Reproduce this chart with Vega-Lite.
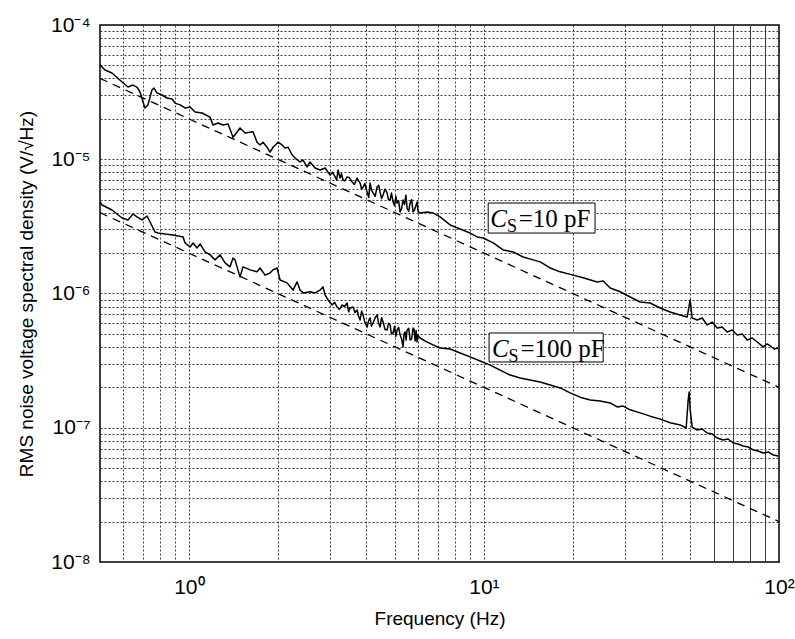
{
  "$schema": "https://vega.github.io/schema/vega-lite/v6.json",
  "autosize": "none",
  "width": 679,
  "height": 537,
  "padding": {"left": 100, "top": 25, "right": 16, "bottom": 77},
  "background": "white",
  "config": {
    "view": {"stroke": "black", "strokeWidth": 1.5},
    "axis": {
      "labelFont": "Liberation Sans",
      "labelFontSize": 21,
      "labelColor": "black",
      "titleFont": "Liberation Sans",
      "titleFontSize": 19,
      "titleFontWeight": "normal",
      "titleColor": "black",
      "ticks": false,
      "domain": false,
      "gridColor": "#3a3a3a",
      "gridWidth": 1,
      "gridOpacity": 1,
      "labelOverlap": false,
      "labelFlush": false
    }
  },
  "datasets": {
    "curves": [
      {"s":"10 pF","f":0.5,"v":5.04e-5},{"s":"10 pF","f":0.52,"v":4.62e-5},{"s":"10 pF","f":0.549,"v":4.39e-5},{"s":"10 pF","f":0.594,"v":3.76e-5},{"s":"10 pF","f":0.622,"v":3.45e-5},{"s":"10 pF","f":0.647,"v":3.57e-5},{"s":"10 pF","f":0.667,"v":3.45e-5},{"s":"10 pF","f":0.683,"v":3.17e-5},{"s":"10 pF","f":0.71,"v":2.41e-5},{"s":"10 pF","f":0.727,"v":2.54e-5},{"s":"10 pF","f":0.75,"v":3.28e-5},{"s":"10 pF","f":0.762,"v":3.39e-5},{"s":"10 pF","f":0.78,"v":3.12e-5},{"s":"10 pF","f":0.811,"v":3.01e-5},{"s":"10 pF","f":0.844,"v":2.86e-5},{"s":"10 pF","f":0.877,"v":2.81e-5},{"s":"10 pF","f":0.898,"v":2.62e-5},{"s":"10 pF","f":0.934,"v":2.54e-5},{"s":"10 pF","f":0.971,"v":2.41e-5},{"s":"10 pF","f":1.01,"v":2.45e-5},{"s":"10 pF","f":1.05,"v":2.25e-5},{"s":"10 pF","f":1.109,"v":2.21e-5},{"s":"10 pF","f":1.18,"v":2.06e-5},{"s":"10 pF","f":1.208,"v":1.8e-5},{"s":"10 pF","f":1.256,"v":1.86e-5},{"s":"10 pF","f":1.306,"v":1.8e-5},{"s":"10 pF","f":1.358,"v":1.83e-5},{"s":"10 pF","f":1.412,"v":1.46e-5},{"s":"10 pF","f":1.491,"v":1.71e-5},{"s":"10 pF","f":1.551,"v":1.57e-5},{"s":"10 pF","f":1.65,"v":1.6e-5},{"s":"10 pF","f":1.703,"v":1.34e-5},{"s":"10 pF","f":1.743,"v":1.28e-5},{"s":"10 pF","f":1.784,"v":1.34e-5},{"s":"10 pF","f":1.841,"v":1.23e-5},{"s":"10 pF","f":1.885,"v":1.13e-5},{"s":"10 pF","f":1.929,"v":1.23e-5},{"s":"10 pF","f":2.006,"v":1.34e-5},{"s":"10 pF","f":2.07,"v":1.28e-5},{"s":"10 pF","f":2.119,"v":1.21e-5},{"s":"10 pF","f":2.169,"v":1.23e-5},{"s":"10 pF","f":2.238,"v":1.08e-5},{"s":"10 pF","f":2.291,"v":1.02e-5},{"s":"10 pF","f":2.382,"v":9.54e-6},{"s":"10 pF","f":2.439,"v":9.87e-6},{"s":"10 pF","f":2.516,"v":8.76e-6},{"s":"10 pF","f":2.575,"v":9.54e-6},{"s":"10 pF","f":2.678,"v":8.61e-6},{"s":"10 pF","f":2.784,"v":8.32e-6},{"s":"10 pF","f":2.895,"v":8.61e-6},{"s":"10 pF","f":3.011,"v":7.63e-6},{"s":"10 pF","f":3.13,"v":7.38e-6},{"s":"10 pF","f":3.205,"v":8.32e-6},{"s":"10 pF","f":3.255,"v":7.25e-6},{"s":"10 pF","f":3.332,"v":7.01e-6},{"s":"10 pF","f":3.438,"v":7.38e-6},{"s":"10 pF","f":3.575,"v":6.77e-6},{"s":"10 pF","f":3.717,"v":7.25e-6},{"s":"10 pF","f":3.805,"v":6.65e-6},{"s":"10 pF","f":3.895,"v":6.21e-6},{"s":"10 pF","f":4.019,"v":5.7e-6},{"s":"10 pF","f":4.114,"v":6.65e-6},{"s":"10 pF","f":4.211,"v":5.61e-6},{"s":"10 pF","f":4.345,"v":6.21e-6},{"s":"10 pF","f":4.448,"v":5.7e-6},{"s":"10 pF","f":4.553,"v":5.42e-6},{"s":"10 pF","f":4.698,"v":5.61e-6},{"s":"10 pF","f":4.809,"v":4.97e-6},{"s":"10 pF","f":4.923,"v":4.8e-6},{"s":"10 pF","f":5.079,"v":4.72e-6},{"s":"10 pF","f":5.199,"v":4.05e-6},{"s":"10 pF","f":5.322,"v":4.97e-6},{"s":"10 pF","f":5.491,"v":4.33e-6},{"s":"10 pF","f":5.621,"v":4.72e-6},{"s":"10 pF","f":5.754,"v":4.05e-6},{"s":"10 pF","f":5.891,"v":4.56e-6},{"s":"10 pF","f":5.983,"v":4.05e-6},{"s":"10 pF","f":6.077,"v":3.98e-6},{"s":"10 pF","f":6.419,"v":4.05e-6},{"s":"10 pF","f":6.726,"v":3.98e-6},{"s":"10 pF","f":7.104,"v":3.72e-6},{"s":"10 pF","f":7.682,"v":3.24e-6},{"s":"10 pF","f":8.306,"v":3.02e-6},{"s":"10 pF","f":8.981,"v":2.82e-6},{"s":"10 pF","f":9.484,"v":2.64e-6},{"s":"10 pF","f":9.939,"v":2.59e-6},{"s":"10 pF","f":10.75,"v":2.38e-6},{"s":"10 pF","f":11.62,"v":2.11e-6},{"s":"10 pF","f":12.56,"v":2.04e-6},{"s":"10 pF","f":13.58,"v":1.87e-6},{"s":"10 pF","f":14.68,"v":1.78e-6},{"s":"10 pF","f":15.51,"v":1.72e-6},{"s":"10 pF","f":16.77,"v":1.55e-6},{"s":"10 pF","f":18.13,"v":1.45e-6},{"s":"10 pF","f":20.06,"v":1.37e-6},{"s":"10 pF","f":21.69,"v":1.31e-6},{"s":"10 pF","f":24.2,"v":1.22e-6},{"s":"10 pF","f":25.36,"v":1.24e-6},{"s":"10 pF","f":26.78,"v":1.1e-6},{"s":"10 pF","f":28.95,"v":1.03e-6},{"s":"10 pF","f":31.3,"v":9.42e-7},{"s":"10 pF","f":33.84,"v":8.64e-7},{"s":"10 pF","f":36.59,"v":8.5e-7},{"s":"10 pF","f":39.56,"v":7.8e-7},{"s":"10 pF","f":42.77,"v":7.28e-7},{"s":"10 pF","f":46.25,"v":6.92e-7},{"s":"10 pF","f":48.84,"v":6.68e-7},{"s":"10 pF","f":50.0,"v":8.95e-7},{"s":"10 pF","f":50.78,"v":6.57e-7},{"s":"10 pF","f":52.81,"v":6.35e-7},{"s":"10 pF","f":54.91,"v":6.57e-7},{"s":"10 pF","f":57.09,"v":5.83e-7},{"s":"10 pF","f":59.36,"v":6.13e-7},{"s":"10 pF","f":61.72,"v":5.53e-7},{"s":"10 pF","f":64.19,"v":5.63e-7},{"s":"10 pF","f":66.75,"v":5.17e-7},{"s":"10 pF","f":69.4,"v":5.35e-7},{"s":"10 pF","f":72.17,"v":4.91e-7},{"s":"10 pF","f":75.04,"v":4.99e-7},{"s":"10 pF","f":78.02,"v":4.51e-7},{"s":"10 pF","f":81.14,"v":4.66e-7},{"s":"10 pF","f":84.37,"v":4.35e-7},{"s":"10 pF","f":88.41,"v":4.0e-7},{"s":"10 pF","f":91.21,"v":4.21e-7},{"s":"10 pF","f":93.38,"v":4.07e-7},{"s":"10 pF","f":96.34,"v":3.86e-7},{"s":"10 pF","f":99.4,"v":3.93e-7},
      {"s":"10 pF","f":3.07,"v":8.0e-6},{"s":"10 pF","f":3.17,"v":7.0e-6},{"s":"10 pF","f":3.29,"v":7.8e-6},{"s":"10 pF","f":3.38,"v":6.9e-6},{"s":"10 pF","f":3.5,"v":7.3e-6},{"s":"10 pF","f":3.64,"v":6.5e-6},{"s":"10 pF","f":3.76,"v":6.9e-6},{"s":"10 pF","f":3.85,"v":6.0e-6},{"s":"10 pF","f":3.95,"v":6.6e-6},
      {"s":"10 pF","f":4.07,"v":5.2e-6},{"s":"10 pF","f":4.16,"v":5.9e-6},{"s":"10 pF","f":4.28,"v":5.3e-6},{"s":"10 pF","f":4.4,"v":6.4e-6},{"s":"10 pF","f":4.5,"v":5.1e-6},{"s":"10 pF","f":4.62,"v":6.0e-6},{"s":"10 pF","f":4.75,"v":5.0e-6},{"s":"10 pF","f":4.86,"v":5.6e-6},{"s":"10 pF","f":4.98,"v":4.5e-6},{"s":"10 pF","f":5.03,"v":5.3e-6},{"s":"10 pF","f":5.14,"v":4.9e-6},{"s":"10 pF","f":5.26,"v":4.3e-6},{"s":"10 pF","f":5.38,"v":4.6e-6},{"s":"10 pF","f":5.44,"v":5.4e-6},{"s":"10 pF","f":5.56,"v":4.1e-6},{"s":"10 pF","f":5.69,"v":5.0e-6},{"s":"10 pF","f":5.82,"v":4.2e-6},{"s":"10 pF","f":5.94,"v":4.8e-6},
      {"s":"100 pF","f":0.5,"v":4.8e-6},{"s":"100 pF","f":0.508,"v":4.56e-6},{"s":"100 pF","f":0.549,"v":4.19e-6},{"s":"100 pF","f":0.594,"v":3.65e-6},{"s":"100 pF","f":0.622,"v":3.53e-6},{"s":"100 pF","f":0.647,"v":3.91e-6},{"s":"100 pF","f":0.667,"v":3.72e-6},{"s":"100 pF","f":0.694,"v":3.53e-6},{"s":"100 pF","f":0.722,"v":3.78e-6},{"s":"100 pF","f":0.739,"v":3.41e-6},{"s":"100 pF","f":0.768,"v":2.87e-6},{"s":"100 pF","f":0.786,"v":2.82e-6},{"s":"100 pF","f":0.831,"v":2.77e-6},{"s":"100 pF","f":0.884,"v":2.73e-6},{"s":"100 pF","f":0.956,"v":2.64e-6},{"s":"100 pF","f":0.971,"v":2.38e-6},{"s":"100 pF","f":1.01,"v":2.22e-6},{"s":"100 pF","f":1.034,"v":2.38e-6},{"s":"100 pF","f":1.066,"v":2.18e-6},{"s":"100 pF","f":1.092,"v":2.34e-6},{"s":"100 pF","f":1.135,"v":2.04e-6},{"s":"100 pF","f":1.18,"v":1.94e-6},{"s":"100 pF","f":1.227,"v":1.78e-6},{"s":"100 pF","f":1.276,"v":1.94e-6},{"s":"100 pF","f":1.327,"v":1.69e-6},{"s":"100 pF","f":1.379,"v":1.58e-6},{"s":"100 pF","f":1.412,"v":1.84e-6},{"s":"100 pF","f":1.434,"v":1.78e-6},{"s":"100 pF","f":1.491,"v":1.33e-6},{"s":"100 pF","f":1.527,"v":1.58e-6},{"s":"100 pF","f":1.612,"v":1.5e-6},{"s":"100 pF","f":1.703,"v":1.45e-6},{"s":"100 pF","f":1.743,"v":1.55e-6},{"s":"100 pF","f":1.813,"v":1.37e-6},{"s":"100 pF","f":1.885,"v":1.42e-6},{"s":"100 pF","f":1.929,"v":1.5e-6},{"s":"100 pF","f":1.991,"v":1.55e-6},{"s":"100 pF","f":2.038,"v":1.26e-6},{"s":"100 pF","f":2.152,"v":1.2e-6},{"s":"100 pF","f":2.255,"v":1.06e-6},{"s":"100 pF","f":2.327,"v":1.22e-6},{"s":"100 pF","f":2.382,"v":1.06e-6},{"s":"100 pF","f":2.439,"v":1.01e-6},{"s":"100 pF","f":2.575,"v":1.03e-6},{"s":"100 pF","f":2.678,"v":1.01e-6},{"s":"100 pF","f":2.784,"v":1.06e-6},{"s":"100 pF","f":2.85,"v":1.12e-6},{"s":"100 pF","f":2.895,"v":9.75e-7},{"s":"100 pF","f":2.964,"v":8.95e-7},{"s":"100 pF","f":3.058,"v":8.21e-7},{"s":"100 pF","f":3.18,"v":7.93e-7},{"s":"100 pF","f":3.306,"v":8.21e-7},{"s":"100 pF","f":3.438,"v":8.5e-7},{"s":"100 pF","f":3.519,"v":7.8e-7},{"s":"100 pF","f":3.603,"v":7.93e-7},{"s":"100 pF","f":3.717,"v":7.54e-7},{"s":"100 pF","f":3.805,"v":6.35e-7},{"s":"100 pF","f":3.895,"v":6.92e-7},{"s":"100 pF","f":4.019,"v":5.63e-7},{"s":"100 pF","f":4.114,"v":6.57e-7},{"s":"100 pF","f":4.211,"v":6.03e-7},{"s":"100 pF","f":4.345,"v":6.92e-7},{"s":"100 pF","f":4.448,"v":5.63e-7},{"s":"100 pF","f":4.553,"v":6.13e-7},{"s":"100 pF","f":4.698,"v":5.35e-7},{"s":"100 pF","f":4.809,"v":5.83e-7},{"s":"100 pF","f":4.923,"v":5.08e-7},{"s":"100 pF","f":5.079,"v":5.35e-7},{"s":"100 pF","f":5.199,"v":4.91e-7},{"s":"100 pF","f":5.322,"v":4.0e-7},{"s":"100 pF","f":5.406,"v":5.17e-7},{"s":"100 pF","f":5.491,"v":5.35e-7},{"s":"100 pF","f":5.621,"v":4.51e-7},{"s":"100 pF","f":5.754,"v":5.53e-7},{"s":"100 pF","f":5.845,"v":4.43e-7},{"s":"100 pF","f":5.937,"v":4.35e-7},{"s":"100 pF","f":6.077,"v":4.66e-7},{"s":"100 pF","f":6.419,"v":4.35e-7},{"s":"100 pF","f":6.726,"v":4.14e-7},{"s":"100 pF","f":7.104,"v":3.93e-7},{"s":"100 pF","f":7.682,"v":3.86e-7},{"s":"100 pF","f":8.306,"v":3.6e-7},{"s":"100 pF","f":8.981,"v":3.37e-7},{"s":"100 pF","f":9.71,"v":3.14e-7},{"s":"100 pF","f":10.5,"v":2.93e-7},{"s":"100 pF","f":11.35,"v":2.69e-7},{"s":"100 pF","f":12.27,"v":2.47e-7},{"s":"100 pF","f":13.27,"v":2.35e-7},{"s":"100 pF","f":14.34,"v":2.27e-7},{"s":"100 pF","f":15.51,"v":2.19e-7},{"s":"100 pF","f":16.77,"v":2.08e-7},{"s":"100 pF","f":18.13,"v":1.98e-7},{"s":"100 pF","f":19.6,"v":1.82e-7},{"s":"100 pF","f":21.19,"v":1.69e-7},{"s":"100 pF","f":22.91,"v":1.61e-7},{"s":"100 pF","f":24.77,"v":1.58e-7},{"s":"100 pF","f":26.78,"v":1.53e-7},{"s":"100 pF","f":28.28,"v":1.43e-7},{"s":"100 pF","f":29.64,"v":1.45e-7},{"s":"100 pF","f":31.3,"v":1.36e-7},{"s":"100 pF","f":33.84,"v":1.29e-7},{"s":"100 pF","f":36.59,"v":1.22e-7},{"s":"100 pF","f":39.56,"v":1.16e-7},{"s":"100 pF","f":42.77,"v":1.09e-7},{"s":"100 pF","f":46.25,"v":1.05e-7},{"s":"100 pF","f":48.46,"v":9.96e-8},{"s":"100 pF","f":49.23,"v":1.61e-7},{"s":"100 pF","f":49.61,"v":1.85e-7},{"s":"100 pF","f":50.0,"v":1.36e-7},{"s":"100 pF","f":50.78,"v":1.01e-7},{"s":"100 pF","f":52.81,"v":9.62e-8},{"s":"100 pF","f":54.91,"v":9.79e-8},{"s":"100 pF","f":57.09,"v":9.14e-8},{"s":"100 pF","f":59.36,"v":8.99e-8},{"s":"100 pF","f":61.72,"v":8.39e-8},{"s":"100 pF","f":64.69,"v":8.1e-8},{"s":"100 pF","f":67.27,"v":8.24e-8},{"s":"100 pF","f":69.94,"v":7.7e-8},{"s":"100 pF","f":72.73,"v":7.57e-8},{"s":"100 pF","f":75.62,"v":7.31e-8},{"s":"100 pF","f":78.63,"v":7.19e-8},{"s":"100 pF","f":81.77,"v":6.83e-8},{"s":"100 pF","f":85.03,"v":6.71e-8},{"s":"100 pF","f":88.41,"v":6.49e-8},{"s":"100 pF","f":91.93,"v":6.6e-8},{"s":"100 pF","f":95.59,"v":6.27e-8},{"s":"100 pF","f":99.4,"v":6.16e-8},
      {"s":"100 pF","f":3.12,"v":8.6e-7},{"s":"100 pF","f":3.24,"v":7.6e-7},{"s":"100 pF","f":3.37,"v":8.0e-7},{"s":"100 pF","f":3.48,"v":7.3e-7},{"s":"100 pF","f":3.66,"v":7.2e-7},{"s":"100 pF","f":3.76,"v":6.8e-7},{"s":"100 pF","f":3.85,"v":7.4e-7},{"s":"100 pF","f":3.95,"v":6.1e-7},
      {"s":"100 pF","f":4.07,"v":6.3e-7},{"s":"100 pF","f":4.16,"v":5.7e-7},{"s":"100 pF","f":4.28,"v":6.6e-7},{"s":"100 pF","f":4.4,"v":6.0e-7},{"s":"100 pF","f":4.5,"v":6.6e-7},{"s":"100 pF","f":4.62,"v":5.4e-7},{"s":"100 pF","f":4.75,"v":6.0e-7},{"s":"100 pF","f":4.86,"v":5.0e-7},{"s":"100 pF","f":4.98,"v":5.7e-7},{"s":"100 pF","f":5.03,"v":4.8e-7},{"s":"100 pF","f":5.14,"v":5.6e-7},{"s":"100 pF","f":5.26,"v":4.6e-7},{"s":"100 pF","f":5.36,"v":5.0e-7},{"s":"100 pF","f":5.45,"v":4.5e-7},{"s":"100 pF","f":5.56,"v":5.5e-7},{"s":"100 pF","f":5.69,"v":4.6e-7},{"s":"100 pF","f":5.8,"v":5.4e-7},{"s":"100 pF","f":5.89,"v":5.3e-7},{"s":"100 pF","f":5.96,"v":4.9e-7}
    ],
    "dashed": [
      {"s":"10 pF fit","f":0.5,"v":4.0e-5},{"s":"10 pF fit","f":100,"v":2.0e-7},
      {"s":"100 pF fit","f":0.5,"v":4.0e-6},{"s":"100 pF fit","f":100,"v":2.0e-8}
    ],
    "labels": [
      {"c":"C","sub":"S","rest":"=10 pF","fc":10.5,"fs":11.98,"fr":13.12,"vb":3.13e-6,"vs":2.87e-6,"bx1":10.34,"bx2":23.8,"by1":4.72e-6,"by2":2.82e-6},
      {"c":"C","sub":"S","rest":"=100 pF","fc":10.66,"fs":12.12,"fr":13.3,"vb":3.37e-7,"vs":3.09e-7,"bx1":10.41,"bx2":25.36,"by1":5.08e-7,"by2":3.09e-7}
    ]
  },
  "encoding": {
    "x": {
      "type": "quantitative",
      "scale": {"type": "log", "domain": [0.5, 100], "nice": false},
      "axis": {
        "title": "Frequency (Hz)",
        "titlePadding": 12,
        "labelPadding": 14,
        "values": [0.6,0.7,0.8,0.9,1,2,3,4,5,6,7,8,9,10,20,30,40,50,60,70,80,90,100],
        "labelExpr": "datum.value == 1 ? '10⁰' : datum.value == 10 ? '10¹' : datum.value == 100 ? '10²' : ''",
        "gridDash": {"condition": {"test": "datum.value >= 60", "value": []}, "value": [2, 2]}
      }
    },
    "y": {
      "type": "quantitative",
      "scale": {"type": "log", "domain": [1e-8, 1e-4], "nice": false},
      "axis": {
        "title": "RMS noise voltage spectral density (V/√Hz)",
        "titlePadding": 14,
        "labelPadding": 10,
        "values": [1e-8,2e-8,3e-8,4e-8,5e-8,6e-8,7e-8,8e-8,9e-8,1e-7,2e-7,3e-7,4e-7,5e-7,6e-7,7e-7,8e-7,9e-7,1e-6,2e-6,3e-6,4e-6,5e-6,6e-6,7e-6,8e-6,9e-6,1e-5,2e-5,3e-5,4e-5,5e-5,6e-5,7e-5,8e-5,9e-5,1e-4],
        "labelExpr": "datum.value == 0.0001 ? '10⁻⁴' : datum.value == 0.00001 ? '10⁻⁵' : datum.value == 0.000001 ? '10⁻⁶' : datum.value == 0.0000001 ? '10⁻⁷' : datum.value == 0.00000001 ? '10⁻⁸' : ''",
        "gridDash": [2, 2]
      }
    }
  },
  "layer": [
    {
      "data": {"name": "dashed"},
      "mark": {"type": "line", "color": "black", "strokeWidth": 1.3, "strokeDash": [8, 6]},
      "encoding": {"x": {"field": "f"}, "y": {"field": "v"}, "detail": {"field": "s"}}
    },
    {
      "data": {"name": "curves"},
      "mark": {"type": "line", "color": "black", "strokeWidth": 1.5, "strokeJoin": "round"},
      "encoding": {"x": {"field": "f"}, "y": {"field": "v"}, "detail": {"field": "s"}}
    },
    {
      "data": {"name": "labels"},
      "mark": {"type": "rect", "fill": "white", "stroke": "black", "strokeWidth": 1},
      "encoding": {"x": {"field": "bx1"}, "x2": {"field": "bx2"}, "y": {"field": "by1"}, "y2": {"field": "by2"}}
    },
    {
      "data": {"name": "labels"},
      "mark": {"type": "text", "font": "Liberation Serif", "fontStyle": "italic", "fontSize": 25, "align": "left", "baseline": "alphabetic", "color": "black"},
      "encoding": {"x": {"field": "fc"}, "y": {"field": "vb"}, "text": {"field": "c"}}
    },
    {
      "data": {"name": "labels"},
      "mark": {"type": "text", "font": "Liberation Serif", "fontSize": 18, "align": "left", "baseline": "alphabetic", "color": "black"},
      "encoding": {"x": {"field": "fs"}, "y": {"field": "vs"}, "text": {"field": "sub"}}
    },
    {
      "data": {"name": "labels"},
      "mark": {"type": "text", "font": "Liberation Serif", "fontSize": 25, "align": "left", "baseline": "alphabetic", "color": "black"},
      "encoding": {"x": {"field": "fr"}, "y": {"field": "vb"}, "text": {"field": "rest"}}
    }
  ]
}
